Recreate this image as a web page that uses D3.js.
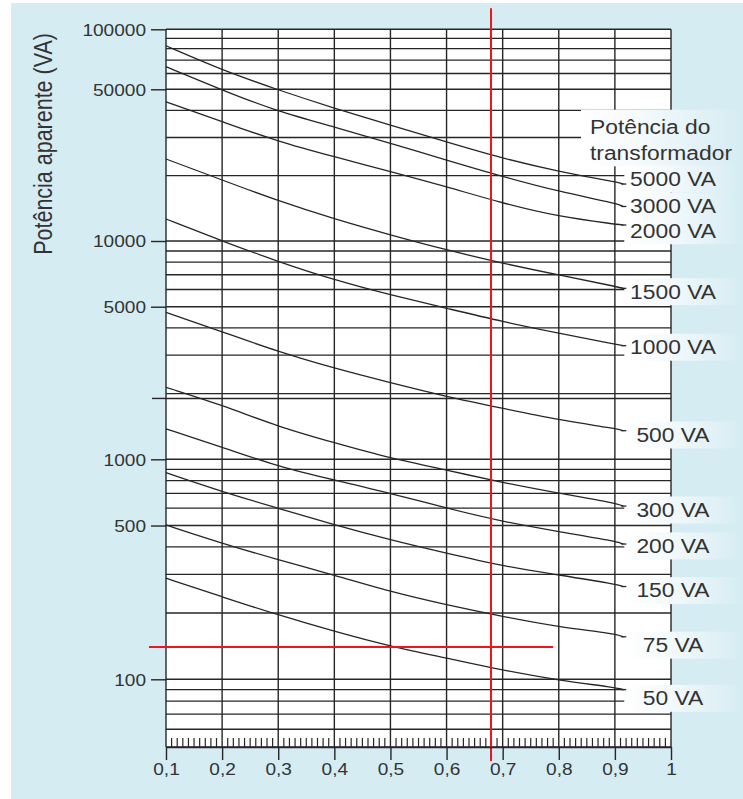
<!DOCTYPE html>
<html>
<head>
<meta charset="utf-8">
<script src="https://cdn.jsdelivr.net/npm/d3@7"></script>
<style>
  body { margin: 0; background: #fff; }
  svg { display: block; }
  text { font-family: "Liberation Sans", Arial, sans-serif; fill: #333; }
</style>
</head>
<body>
<div id="app"></div>
<script>
// fator de potência (ultimo ponto = fim da curva)
const cosPhi = [0.1, 0.2, 0.3, 0.4, 0.5, 0.6, 0.7, 0.8, 0.9, 0.915];

// potência aparente (VA) de cada curva
const p5000 = [82700, 62500, 49600, 40900, 34200, 28600, 24000, 20900, 18750, 18300];
const p3000 = [64900, 49600, 39400, 33600, 28200, 23600, 19800, 16900, 14960, 14420];
const p2000 = [43800, 35500, 28700, 24450, 20900, 17800, 14920, 12940, 11970, 11850];
const p1500 = [23870, 19100, 15290, 12630, 10660, 9100, 7900, 6990, 6200, 6070];
const p1000 = [12630, 10000, 8040, 6630, 5660, 4920, 4270, 3780, 3370, 3315];
const p500 = [4714, 3842, 3110, 2611, 2243, 1935, 1712, 1514, 1384, 1352];
const p300 = [2137, 1773, 1410, 1191, 1010, 894, 783, 701, 633, 613];
const p200 = [1377, 1138, 926, 805, 701, 599, 521, 469, 425, 412];
const p150 = [869, 712, 599, 503, 430, 374, 327, 298, 271, 264];
const p75 = [503, 415, 349, 298, 250, 218, 193, 173, 161, 156];
const p50 = [288, 237, 196, 165, 141, 125, 110, 99, 92, 90];

const series = [p5000, p3000, p2000, p1500, p1000, p500, p300, p200, p150, p75, p50];
const transformers = ["5000 VA", "3000 VA", "2000 VA", "1500 VA", "1000 VA", "500 VA",
  "300 VA", "200 VA", "150 VA", "75 VA", "50 VA"];
// onde fica o centro de cada rótulo (em VA)
const labelAt = [19300, 14490, 11150, 5860, 3260, 1292, 588, 404, 253, 143, 82.3];
const legendTitle = ["Potência do", "transformador"];
const legendAt = [33620, 25350];

const xTicks = [0.1, 0.2, 0.3, 0.4, 0.5, 0.6, 0.7, 0.8, 0.9, 1];
const xTickLabels = ["0,1", "0,2", "0,3", "0,4", "0,5", "0,6", "0,7", "0,8", "0,9", "1"];
const yTicks = [100000, 50000, 10000, 5000, 1000, 500, 100];
const yTickLabels = ["100000", "50000", "10000", "5000", "1000", "500", "100"];
const extraLines = [1900];

// linhas vermelhas do exemplo
const markCos = 0.68;
const markVA = 140;
const markVAEnd = 0.79;

const width = 743;
const height = 799;
const bg = "#d5ecf3";
const ink = "#262626";
const red = "#f0141e";
const sx = 1.17; // texto do original esticado na horizontal

const svg = d3.select('#app')
  .append('svg')
  .attr('width', width)
  .attr('height', height);

const x = d3.scaleLinear().domain([0.1, 1]).range([166, 671]);
// escala log calibrada nas marcas do original
const y = d3.scaleLog()
  .domain([50, 100, 1000, 10000, 50000, 100000])
  .range([747, 679.3, 459.3, 241, 89.3, 29.3]);

const plotTop = y(100000), plotBottom = y(50);

const defs = svg.append("defs");
const grad = defs.append("linearGradient").attr("id", "fade");
grad.append("stop").attr("offset", "0%").attr("stop-color", "#ffffff");
grad.append("stop").attr("offset", "35%").attr("stop-color", "#f5fafc");
grad.append("stop").attr("offset", "100%").attr("stop-color", bg);

svg.append("rect")
  .attr("x", 11).attr("y", 3)
  .attr("width", width - 11).attr("height", height - 3)
  .attr("fill", bg);

svg.append("rect")
  .attr("x", x(0.1)).attr("y", plotTop)
  .attr("width", x(1) - x(0.1)).attr("height", plotBottom - plotTop)
  .attr("fill", "#fff");

// grade horizontal
const grid = svg.append("g").attr("stroke", ink).attr("stroke-width", 1.4);
grid.selectAll(".h")
  .data(y.ticks().concat(extraLines))
  .join("line")
  .attr("class", "h")
  .attr("x1", x(0.1)).attr("x2", x(1))
  .attr("y1", d => y(d)).attr("y2", d => y(d));

// grade vertical
grid.selectAll(".v")
  .data(xTicks)
  .join("line")
  .attr("class", "v")
  .attr("x1", d => x(d)).attr("x2", d => x(d))
  .attr("y1", plotTop).attr("y2", plotBottom);

// marcas pequenas embaixo
const minor = d3.range(11, 100).filter(d => d % 10 !== 0).map(d => d / 100);
grid.selectAll(".m")
  .data(minor)
  .join("line")
  .attr("class", "m")
  .attr("stroke-width", 1.2)
  .attr("x1", d => x(d)).attr("x2", d => x(d))
  .attr("y1", plotBottom - 9).attr("y2", plotBottom);

// curvas (suavizadas)
const line = d3.line()
  .x((d, i) => x(cosPhi[i]))
  .y(d => y(d))
  .curve(d3.curveBasis);

svg.append("g")
  .selectAll("path")
  .data(series)
  .join("path")
  .attr("fill", "none")
  .attr("stroke", ink)
  .attr("stroke-width", 1.3)
  .attr("d", line);

// linhas vermelhas
const rx = Math.round(x(markCos));
const ry = Math.round(y(markVA));
svg.append("line")
  .attr("x1", rx).attr("x2", rx)
  .attr("y1", plotTop - 21).attr("y2", plotBottom + 14)
  .attr("stroke", red).attr("stroke-width", 2);
svg.append("line")
  .attr("x1", x(0.1) - 17).attr("x2", x(markVAEnd))
  .attr("y1", ry).attr("y2", ry)
  .attr("stroke", red).attr("stroke-width", 2);

// eixo y
const yAxis = d3.axisLeft(y)
  .tickValues(yTicks)
  .tickFormat((d, i) => yTickLabels[i])
  .tickSizeInner(15).tickSizeOuter(0).tickPadding(5);

const gy = svg.append("g")
  .attr("transform", `translate(${x(0.1)},0)`)
  .call(yAxis);
gy.select(".domain").remove();
gy.selectAll("line").attr("stroke", ink).attr("stroke-width", 1.4);
gy.selectAll("text")
  .attr("x", 0)
  .attr("dy", "0.35em")
  .attr("transform", `translate(-20,0) scale(${sx},1)`)
  .style("font-size", "16.3px")
  .style("fill", "#333");

svg.append("g").attr("stroke", ink).attr("stroke-width", 1.4)
  .selectAll("line")
  .data(extraLines)
  .join("line")
  .attr("x1", x(0.1) - 14).attr("x2", x(0.1))
  .attr("y1", d => y(d)).attr("y2", d => y(d));

// eixo x
const xAxis = d3.axisBottom(x)
  .tickValues(xTicks)
  .tickFormat((d, i) => xTickLabels[i])
  .tickSizeInner(13).tickSizeOuter(0).tickPadding(3);

const gx = svg.append("g")
  .attr("transform", `translate(0,${plotBottom})`)
  .call(xAxis);
gx.select(".domain").attr("stroke", ink).attr("stroke-width", 1.4);
gx.selectAll("line").attr("stroke", ink).attr("stroke-width", 1.4);
gx.selectAll("text")
  .attr("transform", `scale(${sx},1)`)
  .style("font-size", "16.3px")
  .style("fill", "#333");

// título do eixo y
svg.append("text")
  .attr("transform", `translate(51.5,${y(28000)}) scale(${sx},1) rotate(-90)`)
  .attr("text-anchor", "middle")
  .style("font-size", "21.5px")
  .text("Potência aparente (VA)");

// caixas dos rótulos
const boxes = svg.append("g");
boxes.append("rect")
  .attr("x", x(1) - 90)
  .attr("y", y(legendAt[0]) - 17)
  .attr("width", width - (x(1) - 90))
  .attr("height", y(legendAt[1]) + 13 - (y(legendAt[0]) - 17))
  .attr("fill", "url(#fade)");

boxes.selectAll(".lb")
  .data(labelAt)
  .join("rect")
  .attr("class", "lb")
  .attr("x", x(0.915) + 1)
  .attr("y", d => y(d) - 13.5)
  .attr("width", width - x(0.915) - 1)
  .attr("height", 27)
  .attr("fill", "url(#fade)");

// traço curto entre curva e rótulo
svg.append("g")
  .selectAll("line")
  .data(series)
  .join("line")
  .attr("x1", x(0.915) - 2).attr("x2", x(0.915) + 3)
  .attr("y1", d => y(d[d.length - 1])).attr("y2", d => y(d[d.length - 1]))
  .attr("stroke", ink).attr("stroke-width", 1.3);

svg.append("g")
  .selectAll("text")
  .data(legendTitle)
  .join("text")
  .attr("transform", (d, i) => `translate(${x(1) - 81},${y(legendAt[i])}) scale(${sx},1)`)
  .attr("dy", "0.35em")
  .style("font-size", "19.5px")
  .text(d => d);

svg.append("g")
  .selectAll("text")
  .data(transformers)
  .join("text")
  .attr("transform", (d, i) => `translate(${x(1) + 2},${y(labelAt[i])}) scale(${sx},1)`)
  .attr("text-anchor", "middle")
  .attr("dy", "0.35em")
  .style("font-size", "19.5px")
  .text(d => d);
</script>
</body>
</html>
